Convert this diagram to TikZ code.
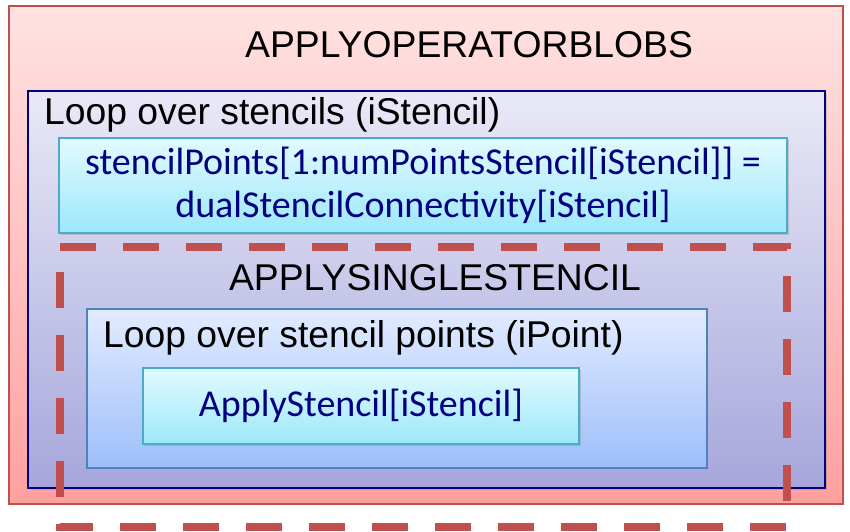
\documentclass[tikz,border=0pt]{standalone}
\usepackage{fontspec}
\setmainfont{Liberation Sans}
\newfontfamily\codefont{Carlito}
\usetikzlibrary{positioning, shadows}
\definecolor{blobred}{RGB}{192, 80, 77}
\definecolor{blobtop}{RGB}{255, 226, 226}
\definecolor{blobbottom}{RGB}{255, 160, 160}
\definecolor{loopnavy}{RGB}{0, 0, 128}
\definecolor{looptop}{RGB}{233, 233, 247}
\definecolor{loopbottom}{RGB}{166, 166, 220}
\definecolor{pointblue}{RGB}{79, 129, 189}
\definecolor{pointtop}{RGB}{226, 236, 255}
\definecolor{pointbottom}{RGB}{158, 190, 250}
\definecolor{codecyan}{RGB}{75, 172, 198}
\definecolor{codetop}{RGB}{226, 250, 255}
\definecolor{codebottom}{RGB}{156, 232, 250}

\tikzset{
  panel/.style={draw, anchor=north west, inner sep=0pt, line width=1.5pt,
    drop shadow={shadow xshift=1.5pt, shadow yshift=-1.5pt, opacity=0.3}},
  codebox/.style={panel, draw=codecyan, line width=2pt, top color=codetop,
    bottom color=codebottom, align=center, text=loopnavy,
    font=\codefont\fontsize{38}{43}\selectfont},
  boxtitle/.style={inner sep=0pt},
  singledash/.style={draw=blobred, line width=8pt, dash pattern=on 36pt off 27pt}
}

\begin{document}
\begin{tikzpicture}[x=1pt, y=-1pt, font=\fontsize{37.3}{42}\selectfont]
  \useasboundingbox (0,0) rectangle (850,531);
  % outer routine
  \node[panel, draw=blobred, top color=blobtop, bottom color=blobbottom,
        minimum width=834pt, minimum height=498pt] (blobs) at (8,5) {};
  \node[boxtitle, anchor=base] (blobstitle) at (469,57) {APPLYOPERATORBLOBS};
  % loop over stencils
  \node[panel, draw=loopnavy, line width=2pt, top color=looptop,
        bottom color=loopbottom, minimum width=797pt, minimum height=397pt]
        (stencils) at (27,90) {};
  \node[boxtitle, anchor=base west] (stencilstitle) at (44,124)
    {Loop over stencils (iStencil)};
  \node[codebox, minimum width=728pt, minimum height=95pt] (gather) at (58,137)
    {stencilPoints[1:numPointsStencil[iStencil]] =\\
     dualStencilConnectivity[iStencil]};
  % single stencil
  \node[boxtitle, anchor=base] (singletitle) at (435,290) {APPLYSINGLESTENCIL};
  \node[panel, draw=pointblue, top color=pointtop, bottom color=pointbottom,
        minimum width=620pt, minimum height=159pt] (points) at (86,308) {};
  \node[boxtitle, anchor=base west] (pointstitle) at (103,347)
    {Loop over stencil points (iPoint)};
  \node[codebox, minimum width=436pt, minimum height=76pt] (apply) at (142,367)
    {ApplyStencil[iStencil]};
  \draw[singledash] (60,247) -- (787,247) -- (787,527) -- (60,527) -- cycle;
\end{tikzpicture}
\end{document}
